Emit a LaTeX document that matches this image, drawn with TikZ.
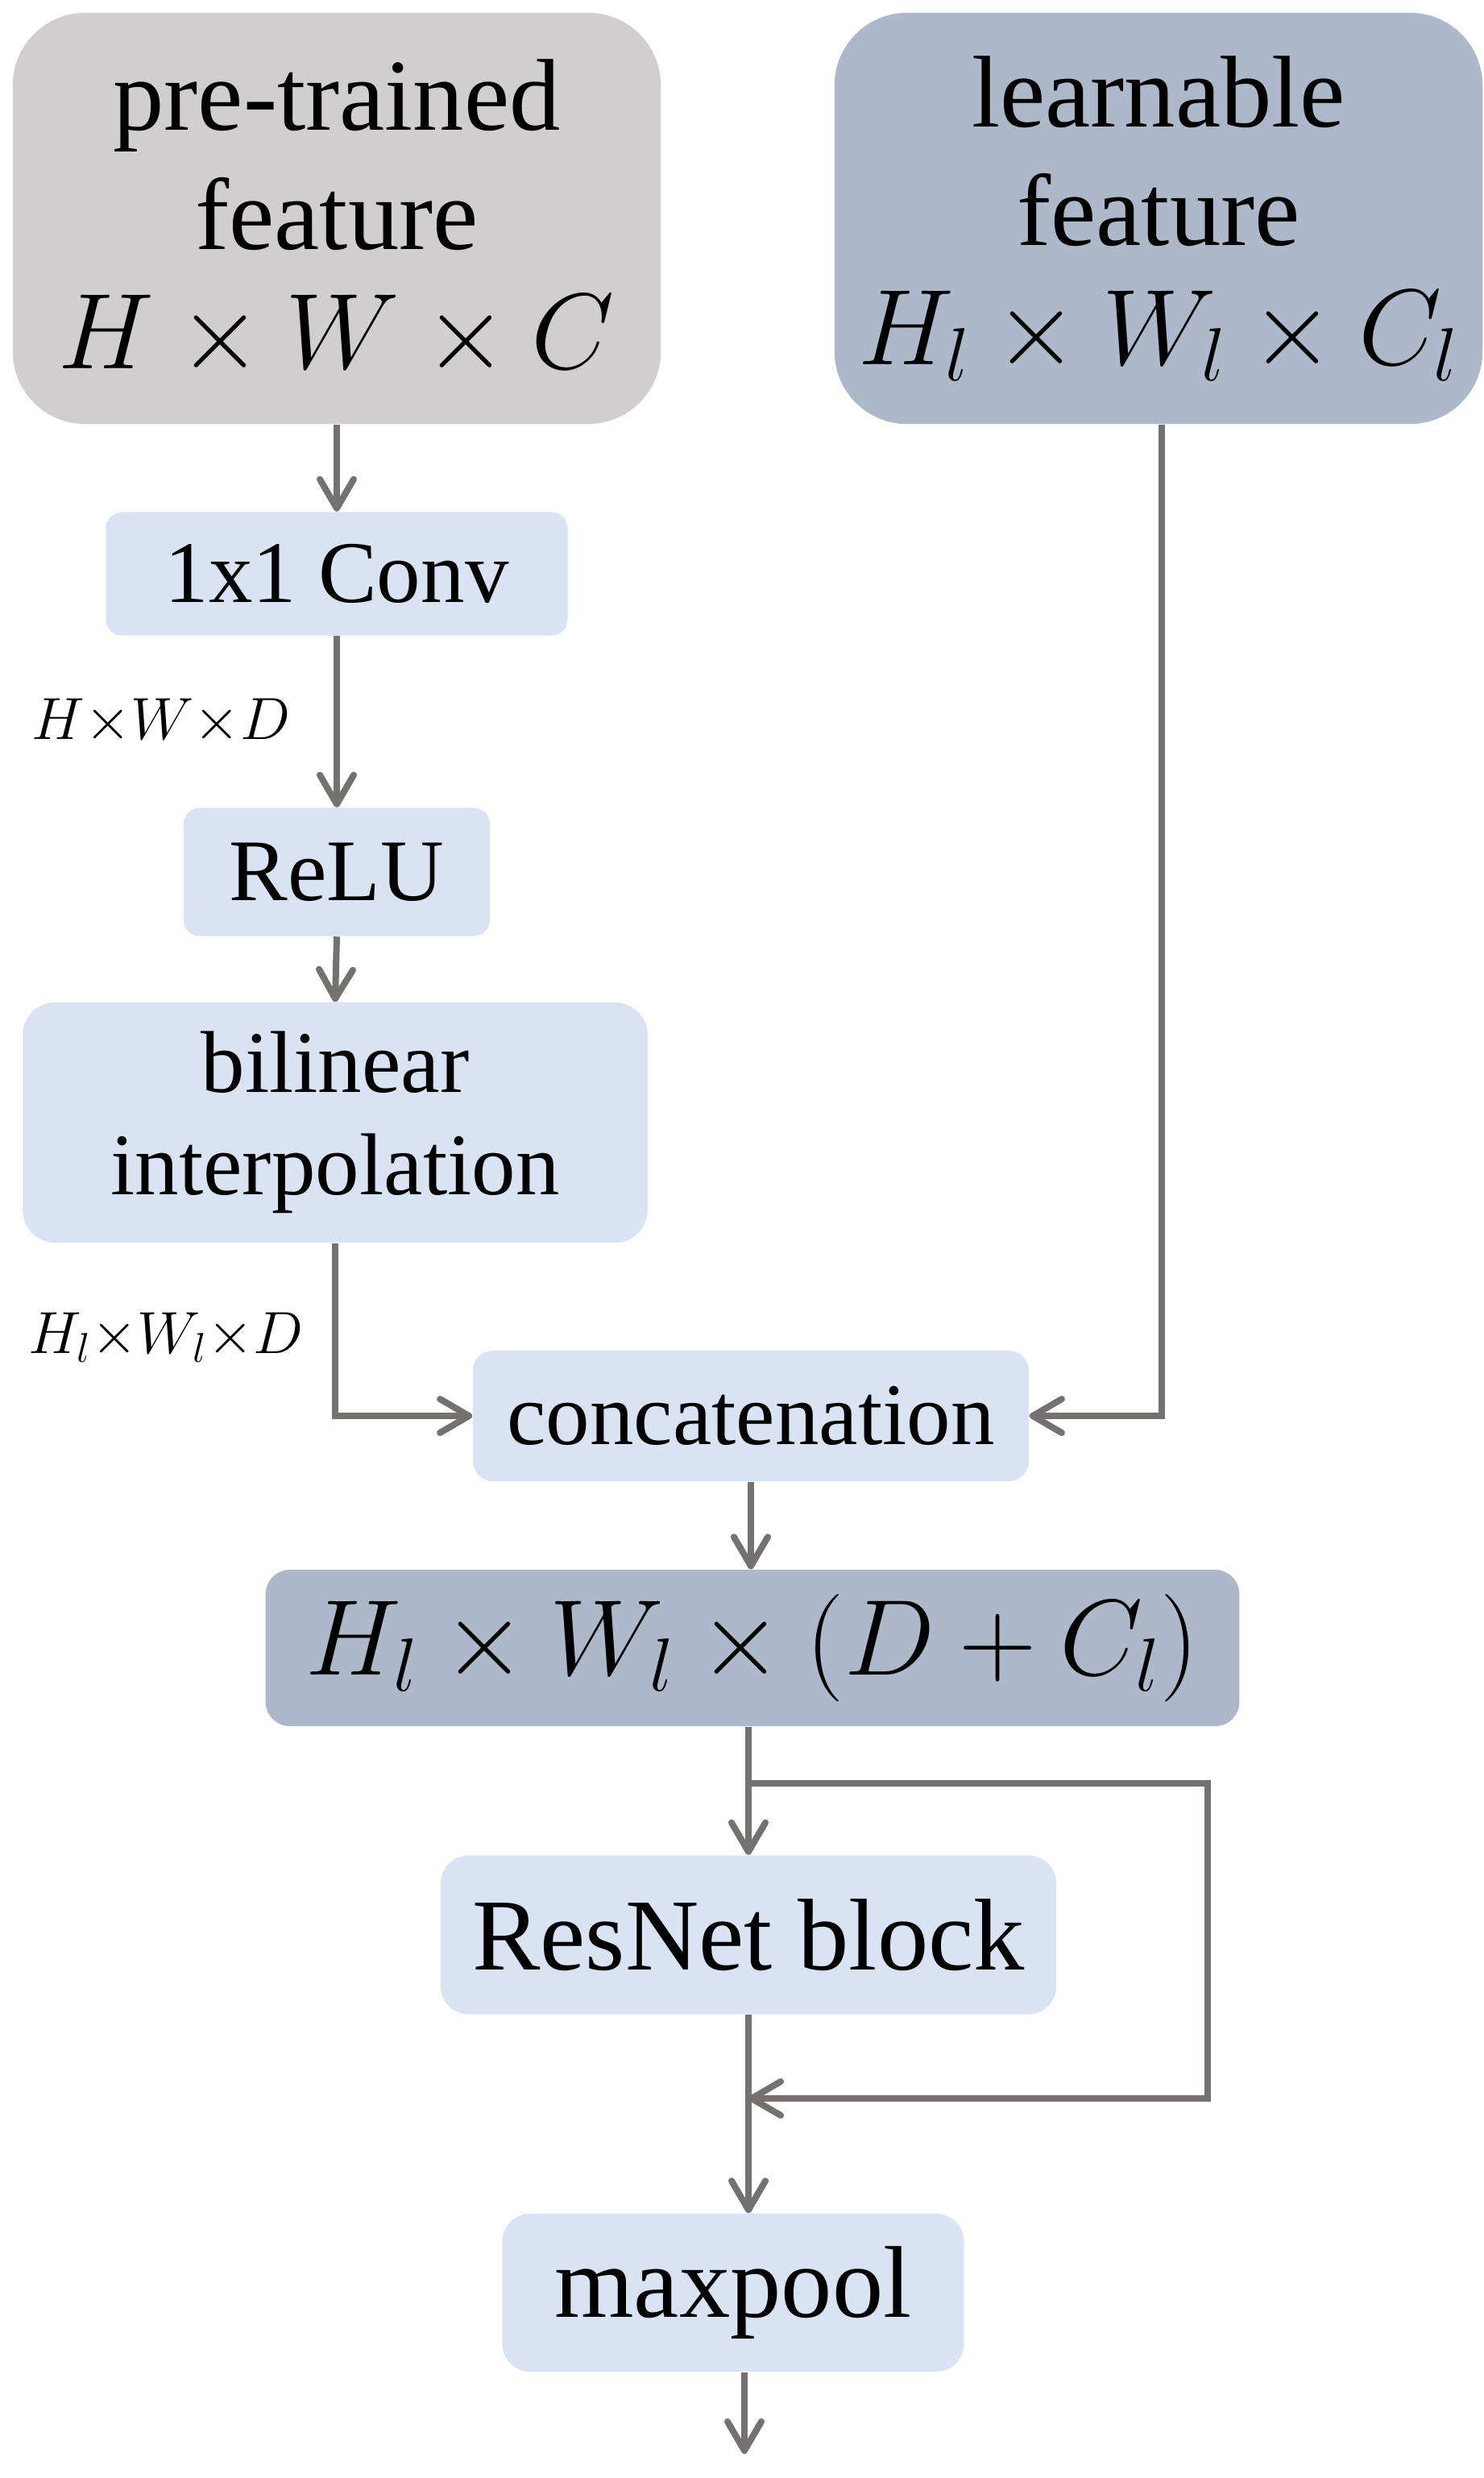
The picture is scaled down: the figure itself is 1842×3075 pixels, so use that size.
\RequirePackage{fix-cm}
\documentclass[tikz,border=0pt]{standalone}
\usepackage[no-math]{fontspec}
\setmainfont{Liberation Serif}
\usetikzlibrary{arrows.meta,calc}
\definecolor{boxblue}{HTML}{DAE3F3}
\definecolor{boxgray}{HTML}{D0CECE}
\definecolor{boxdark}{HTML}{ADB9CA}
\definecolor{arrgray}{HTML}{767171}
\begin{document}
\begin{tikzpicture}[x=0.01cm,y=-0.01cm,
  box/.style={fill=boxblue,draw=none,rounded corners=0.3cm,inner sep=0pt,align=center,
    font=\fontsize{31}{36}\selectfont},
  bigbox/.style={box,rounded corners=0.9cm,font=\fontsize{36}{42}\selectfont},
  conn/.style={draw=arrgray,line width=0.08cm,-{Straight Barb[length=0.36cm,width=0.42cm,round]}},
  line/.style={draw=arrgray,line width=0.08cm},
  dimlab/.style={inner sep=0pt,font=\fontsize{21}{24}\selectfont}]
\useasboundingbox (0,0) rectangle (1842,3075);
\fill[white] (0,0) rectangle (1842,3075);
\node[bigbox,fill=boxgray,minimum width=8.04cm,minimum height=5.1cm] (pre) at (418,271)
  {pre-trained\\feature\\{\fontsize{38}{42}\selectfont$H\times W\times C$}};
\node[bigbox,fill=boxdark,minimum width=8.04cm,minimum height=5.1cm] (learn) at (1438,271)
  {learnable\\feature\\{\fontsize{38}{42}\selectfont$H_l\times W_l\times C_l$}};
\node[box,minimum width=5.73cm,minimum height=1.53cm,rounded corners=0.2cm] (conv) at (418,712) {1x1 Conv};
\node[box,minimum width=3.8cm,minimum height=1.59cm,rounded corners=0.2cm] (relu) at (418,1082) {ReLU};
\node[box,minimum width=7.75cm,minimum height=2.98cm,rounded corners=0.4cm] (bil) at (416,1393) {bilinear\\interpolation};
\node[box,minimum width=6.9cm,minimum height=1.62cm,rounded corners=0.25cm] (concat) at (932,1757) {concatenation};
\node[bigbox,fill=boxdark,minimum width=12.08cm,minimum height=1.94cm,rounded corners=0.3cm] (dim) at (934,2045)
  {\fontsize{38}{42}\selectfont$H_l\times W_l\times (D+C_l)$};
\node[bigbox,minimum width=7.64cm,minimum height=1.97cm,rounded corners=0.35cm] (res) at (929,2401) {ResNet block};
\node[bigbox,minimum width=5.73cm,minimum height=1.96cm,rounded corners=0.35cm] (maxp) at (910,2845) {maxpool};
\node[dimlab] (l1) at (200,895) {$H{\times}W{\times}D$};
\node[dimlab] (l2) at (206,1660) {$H_l{\times}W_l{\times}D$};
\coordinate (split) at (929,2213);
\coordinate (rt) at (1499,2213);
\coordinate (rb) at (1499,2604);
\coordinate (merge) at (929,2604);
\coordinate (out) at (924,3045);
\draw[conn] (pre.south) -- (conv.north);
\draw[conn] (conv.south) -- (relu.north);
\draw[conn] (relu.south) -- (bil.north);
\draw[conn] (bil.south) |- (concat.west);
\draw[conn] (learn.south -| 1442,0) |- (concat.east);
\draw[conn] (concat.south) -- (dim.north -| concat.south);
\draw[conn] (dim.south -| res.south) -- (res.north);
\draw[line] (split) -- (rt) -- (rb) -- (merge);
\draw[conn] (rb) -- (merge);
\draw[conn] (res.south) -- (res.south |- maxp.north);
\draw[conn] (maxp.south -| out) -- (out);
\end{tikzpicture}
\end{document}
